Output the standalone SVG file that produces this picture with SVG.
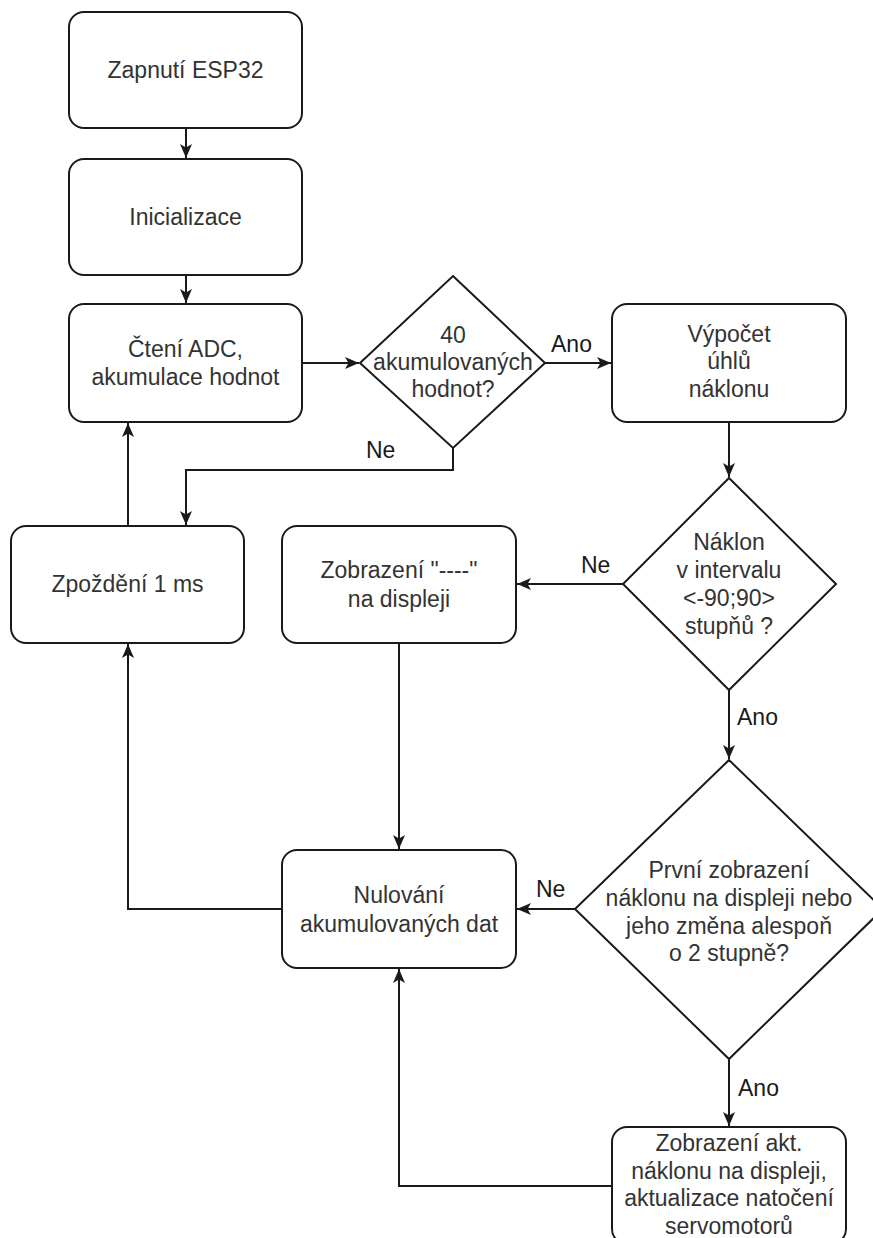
<svg xmlns="http://www.w3.org/2000/svg" width="873" height="1238" viewBox="0 0 873 1238">
<style>
.box{fill:#fff;stroke:#1a1a1a;stroke-width:2}
.t{font-family:"Liberation Sans",Arial,sans-serif;font-size:23px;fill:#333;text-anchor:middle}
.lbl{font-family:"Liberation Sans",Arial,sans-serif;font-size:23px;fill:#1a1a1a}
.c{fill:none;stroke:#1a1a1a;stroke-width:2}
</style>
<defs>
<marker id="arr" markerUnits="userSpaceOnUse" markerWidth="16" markerHeight="16" viewBox="0 0 16 16" refX="15" refY="8" orient="auto">
<path d="M1,2 L15,8 L1,14 L4.5,8 z" fill="#1a1a1a"/>
</marker>
</defs>
<rect width="873" height="1238" fill="#fff"/>
<g id="connectors">
<path class="c" d="M186,128 V158" marker-end="url(#arr)"/>
<path class="c" d="M186,275 V303" marker-end="url(#arr)"/>
<path class="c" d="M302,363 H359" marker-end="url(#arr)"/>
<path class="c" d="M545,363 H611" marker-end="url(#arr)"/>
<path class="c" d="M453,448 V470 H186 V525" marker-end="url(#arr)"/>
<path class="c" d="M128,526 V423" marker-end="url(#arr)"/>
<path class="c" d="M729,422 V477" marker-end="url(#arr)"/>
<path class="c" d="M623,584 H517" marker-end="url(#arr)"/>
<path class="c" d="M729,690 V759" marker-end="url(#arr)"/>
<path class="c" d="M399,643 V849" marker-end="url(#arr)"/>
<path class="c" d="M575,909 H517" marker-end="url(#arr)"/>
<path class="c" d="M282,909 H128 V644" marker-end="url(#arr)"/>
<path class="c" d="M729,1059 V1126" marker-end="url(#arr)"/>
<path class="c" d="M612,1186 H399 V969" marker-end="url(#arr)"/>
<text class="lbl" x="551" y="352">Ano</text>
<text class="lbl" x="366" y="458">Ne</text>
<text class="lbl" x="581" y="573">Ne</text>
<text class="lbl" x="737" y="725">Ano</text>
<text class="lbl" x="536" y="897">Ne</text>
<text class="lbl" x="738" y="1096">Ano</text>
</g>
<g id="n1">
<rect class="box" x="69" y="12" width="233" height="116" rx="15"/>
<text class="t" x="185.5" y="78">Zapnutí ESP32</text>
</g>
<g id="n2">
<rect class="box" x="69" y="159" width="233" height="116" rx="15"/>
<text class="t" x="185.5" y="225">Inicializace</text>
</g>
<g id="n3">
<rect class="box" x="69" y="304" width="233" height="118" rx="15"/>
<text class="t" x="185.5" y="357">Čtení ADC,</text>
<text class="t" x="185.5" y="385">akumulace hodnot</text>
</g>
<g id="d1">
<polygon class="box" points="453,276 545,363 453,448 360,363"/>
<text class="t" x="453" y="343">40</text>
<text class="t" x="453" y="370">akumulovaných</text>
<text class="t" x="453" y="397">hodnot?</text>
</g>
<g id="n4">
<rect class="box" x="612" y="304" width="234" height="118" rx="15"/>
<text class="t" x="729" y="342">Výpočet</text>
<text class="t" x="729" y="369">úhlů</text>
<text class="t" x="729" y="397">náklonu</text>
</g>
<g id="n5">
<rect class="box" x="11" y="526" width="233" height="117" rx="15"/>
<text class="t" x="127.5" y="592">Zpoždění 1 ms</text>
</g>
<g id="n6">
<rect class="box" x="282" y="526" width="234" height="117" rx="15"/>
<text class="t" x="399" y="578">Zobrazení "----"</text>
<text class="t" x="399" y="607">na displeji</text>
</g>
<g id="d2">
<polygon class="box" points="729,478 836,584 729,690 623,584"/>
<text class="t" x="729" y="550">Náklon</text>
<text class="t" x="729" y="578">v intervalu</text>
<text class="t" x="729" y="606">&lt;-90;90&gt;</text>
<text class="t" x="729" y="634">stupňů ?</text>
</g>
<g id="n7">
<rect class="box" x="282" y="850" width="234" height="118" rx="15"/>
<text class="t" x="399" y="903">Nulování</text>
<text class="t" x="399" y="932">akumulovaných dat</text>
</g>
<g id="d3">
<polygon class="box" points="729,760 883,909 729,1059 575,909"/>
<text class="t" x="729" y="878">První zobrazení</text>
<text class="t" x="729" y="906">náklonu na displeji nebo</text>
<text class="t" x="729" y="934">jeho změna alespoň</text>
<text class="t" x="729" y="961">o 2 stupně?</text>
</g>
<g id="n8">
<rect class="box" x="612" y="1127" width="234" height="117" rx="15"/>
<text class="t" x="729" y="1151">Zobrazení akt.</text>
<text class="t" x="729" y="1179">náklonu na displeji,</text>
<text class="t" x="729" y="1206">aktualizace natočení</text>
<text class="t" x="729" y="1234">servomotorů</text>
</g>
</svg>
